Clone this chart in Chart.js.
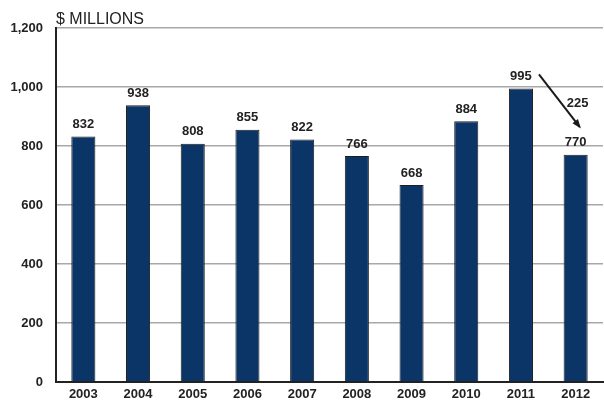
<!DOCTYPE html>
<html>
<head>
<meta charset="utf-8">
<script src="https://cdn.jsdelivr.net/npm/chart.js@4.4.0/dist/chart.umd.min.js"></script>
<style>
  html, body { margin: 0; padding: 0; background: #fff; }
  #wrap { width: 604px; height: 407px; position: relative; }
</style>
</head>
<body>
<div id="wrap"><canvas id="barChart"></canvas></div>
<script>
const years = ['2003', '2004', '2005', '2006', '2007', '2008', '2009', '2010', '2011', '2012'];
const values = [832, 938, 808, 855, 822, 766, 668, 884, 995, 770];
const yTicks = [0, 200, 400, 600, 800, 1000, 1200];
const dropLabel = '225';
const unitTitle = '$ MILLIONS';

const FONT = '"Liberation Sans", Arial, sans-serif';

// labels over bars, the unit title and the drop arrow
const overlayPlugin = {
    id: 'overlay',
    afterDatasetsDraw(chart) {
        const ctx = chart.ctx;
        const meta = chart.getDatasetMeta(0);
        const area = chart.chartArea;
        ctx.save();
        ctx.fillStyle = '#222';
        ctx.font = 'bold 13px ' + FONT;
        ctx.textAlign = 'center';
        ctx.textBaseline = 'middle';
        meta.data.forEach((bar, i) => {
            ctx.fillText(String(values[i]), bar.x, bar.y - 12);
        });

        ctx.font = '16px ' + FONT;
        ctx.textAlign = 'left';
        ctx.textBaseline = 'alphabetic';
        ctx.fillStyle = '#222';
        ctx.fillText(unitTitle, area.left, 24);

        // arrow from the 2011 label to the 2012 label
        const a = meta.data[8], b = meta.data[9];
        const x1 = a.x + 18, y1 = a.y - 14;
        const x2 = b.x + 4, y2 = b.y - 28;
        ctx.strokeStyle = '#1a1a1a';
        ctx.fillStyle = '#1a1a1a';
        ctx.lineWidth = 2;
        ctx.beginPath();
        ctx.moveTo(x1, y1);
        ctx.lineTo(x2, y2);
        ctx.stroke();
        const ang = Math.atan2(y2 - y1, x2 - x1);
        const len = 8;
        ctx.beginPath();
        ctx.moveTo(x2 + 2 * Math.cos(ang), y2 + 2 * Math.sin(ang));
        ctx.lineTo(x2 - len * Math.cos(ang - 0.45), y2 - len * Math.sin(ang - 0.45));
        ctx.lineTo(x2 - len * Math.cos(ang + 0.45), y2 - len * Math.sin(ang + 0.45));
        ctx.closePath();
        ctx.fill();

        ctx.font = 'bold 13px ' + FONT;
        ctx.textAlign = 'center';
        ctx.textBaseline = 'middle';
        ctx.fillStyle = '#222';
        ctx.fillText(dropLabel, b.x + 2, (y1 + y2) / 2 + 3);
        ctx.restore();
    }
};

const ctx = document.getElementById('barChart').getContext('2d');
new Chart(ctx, {
    type: 'bar',
    data: {
        labels: years,
        datasets: [{
            data: values,
            backgroundColor: '#0c3567',
            borderColor: '#1e1e1e',
            borderWidth: 1,
            categoryPercentage: 1,
            barPercentage: 0.44
        }]
    },
    options: {
        responsive: true,
        maintainAspectRatio: false,
        animation: false,
        layout: { padding: { top: 28, right: 1, bottom: 0, left: 0 } },
        plugins: {
            legend: { display: false },
            tooltip: { enabled: false }
        },
        scales: {
            x: {
                afterFit(axis) { axis.height = 25; },
                grid: { display: false, drawTicks: false },
                border: { color: '#222', width: 2 },
                ticks: {
                    padding: 5,
                    color: '#222',
                    font: { family: FONT, size: 13, weight: 'bold' }
                }
            },
            y: {
                min: 0,
                max: 1200,
                afterBuildTicks(axis) {
                    axis.ticks = yTicks.map(v => ({ value: v }));
                },
                afterFit(axis) { axis.width = 56; },
                grid: {
                    color: '#a8a8a8',
                    lineWidth: 1.5,
                    drawTicks: false
                },
                border: { color: '#222', width: 2 },
                ticks: {
                    padding: 13,
                    color: '#222',
                    font: { family: FONT, size: 13, weight: 'bold' },
                    callback: v => v.toLocaleString('en-US')
                }
            }
        }
    },
    plugins: [overlayPlugin]
});
</script>
</body>
</html>
